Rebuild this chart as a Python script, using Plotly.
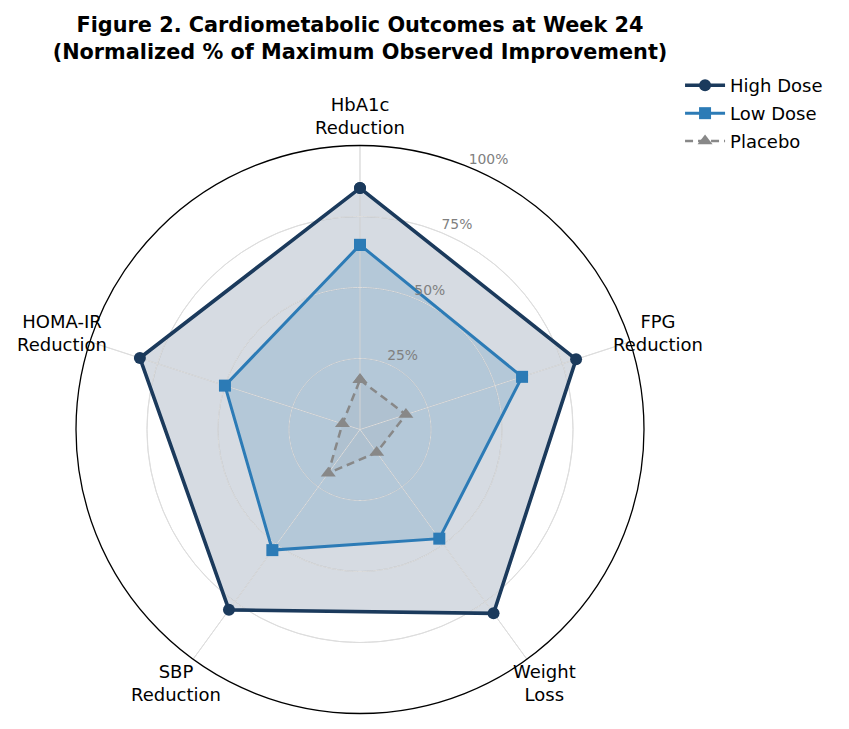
import math
import plotly.graph_objects as go

# ---- data ----
categories = ["HbA1c<br>Reduction", "FPG<br>Reduction", "Weight<br>Loss",
              "SBP<br>Reduction", "HOMA-IR<br>Reduction"]
high_dose = [85, 80, 80, 78.5, 81.5]
low_dose = [65, 60, 47.5, 52.5, 50]
placebo = [17.5, 17, 10, 19, 6.5]
radial_tickvals = [25, 50, 75, 100]
radial_ticktext = ["25%", "50%", "75%", "100%"]
title_text = ("Figure 2. Cardiometabolic Outcomes at Week 24<br>"
              "(Normalized % of Maximum Observed Improvement)")

W, H = 849, 729
FONT = "DejaVu Sans"
GRID = "#dddddd"

n = len(categories)
cat_angles = [360 * i / n for i in range(n)]   # degrees clockwise from top
rlabel_angle = 22.5                               # radial tick label position


def closed(v):
    return list(v) + [v[0]]


theta = closed(cat_angles)

series = [
    ("High Dose", high_dose, "#1b3a5c", "rgba(27,58,92,0.18)", 3.6, "solid", "circle", 12),
    ("Low Dose", low_dose, "#2c7bb6", "rgba(44,123,182,0.2)", 3.0, "solid", "square", 12),
    ("Placebo", placebo, "#888888", "rgba(136,136,136,0.1)", 2.5, "8px,5px", "triangle-up", 13),
]

fig = go.Figure()

# 1) filled areas
for name, vals, col, fcol, lw, dash, sym, ms in series:
    fig.add_trace(go.Scatterpolar(
        r=closed(vals), theta=theta, mode="lines", line=dict(width=0, color=fcol),
        fill="toself", fillcolor=fcol, showlegend=False, hoverinfo="skip"))

# 2) grid drawn over the fills (as matplotlib does)
circle_theta = list(range(0, 361, 1))
for rv in radial_tickvals[:-1]:
    fig.add_trace(go.Scatterpolar(
        r=[rv] * len(circle_theta), theta=circle_theta, mode="lines",
        line=dict(color=GRID, width=1), showlegend=False, hoverinfo="skip"))
for a in cat_angles:
    fig.add_trace(go.Scatterpolar(
        r=[0, radial_tickvals[-1]], theta=[a, a], mode="lines",
        line=dict(color=GRID, width=1), showlegend=False, hoverinfo="skip"))

# 3) outlines with markers
for name, vals, col, fcol, lw, dash, sym, ms in series:
    fig.add_trace(go.Scatterpolar(
        r=closed(vals), theta=theta, name=name, mode="lines+markers",
        line=dict(color=col, width=lw, dash=dash),
        marker=dict(symbol=sym, size=ms, color=col), legendgroup=name))

# 4) radial tick labels (matplotlib-style, at a fixed angle)
fig.add_trace(go.Scatterpolar(
    r=radial_tickvals, theta=[rlabel_angle] * len(radial_tickvals),
    mode="text", text=radial_ticktext, textposition="top right",
    textfont=dict(family=FONT, size=13.9, color="#808080"),
    showlegend=False, hoverinfo="skip", cliponaxis=False))

dom_x = [76 / W, 644 / W]
dom_y = [(H - 713.5) / H, (H - 145.5) / H]

fig.update_layout(
    width=W, height=H,
    margin=dict(l=0, r=0, t=0, b=0),
    paper_bgcolor="white",
    font=dict(family=FONT, color="black"),
    title=dict(text=title_text, x=(dom_x[0] + dom_x[1]) / 2, xanchor="center",
               xref="paper", yref="container", y=1 - 32 / H, yanchor="top",
               font=dict(family=FONT, size=20.8, color="black", weight="bold")),
    polar=dict(
        domain=dict(x=dom_x, y=dom_y),
        bgcolor="white",
        radialaxis=dict(range=[0, 100], tickvals=radial_tickvals,
                        showticklabels=False, showline=False, ticks="",
                        gridcolor=GRID, gridwidth=1),
        angularaxis=dict(rotation=90, direction="clockwise", thetaunit="degrees",
                         tickvals=cat_angles, showline=True,
                         linecolor="black", linewidth=1.3, gridcolor=GRID,
                         gridwidth=1, ticks="", showticklabels=False,
                         layer="above traces"),
    ),
    legend=dict(x=0.801, y=0.908, xanchor="left", yanchor="top",
                font=dict(family=FONT, size=18, color="black"),
                bgcolor="rgba(0,0,0,0)", tracegroupgap=1.5, itemwidth=40),
    showlegend=True,
)

# category labels placed just outside the outer circle
cx = (dom_x[0] + dom_x[1]) / 2 * W
cy = H - (dom_y[0] + dom_y[1]) / 2 * H
R = (dom_x[1] - dom_x[0]) * W / 2
for ang_deg, lab in zip(cat_angles, categories):
    ang = math.radians(90 - ang_deg)
    px = cx + 1.103 * R * math.cos(ang)
    py = cy - 1.103 * R * math.sin(ang)
    fig.add_annotation(text=lab, x=px / W, y=1 - py / H, xref="paper", yref="paper",
                       xanchor="center", yanchor="middle", showarrow=False,
                       font=dict(family=FONT, size=18, color="black"))

fig.write_html("out.html")
